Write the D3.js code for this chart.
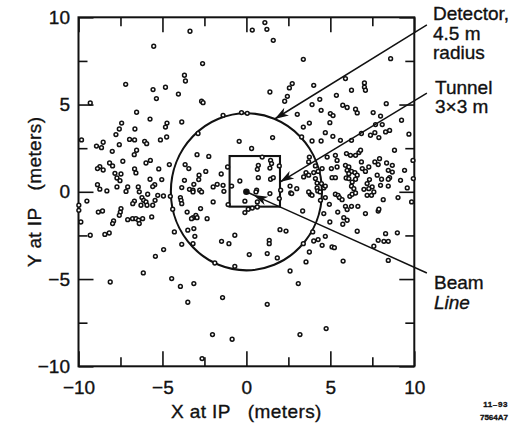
<!DOCTYPE html>
<html>
<head>
<meta charset="utf-8">
<script src="https://cdn.jsdelivr.net/npm/d3@7"></script>
<style>
  html, body { margin: 0; padding: 0; background: #fff; }
  svg { display: block; }
  text { font-family: "Liberation Sans", Arial, Helvetica, sans-serif; fill: #111; stroke: #111; stroke-width: 0.35px; }
</style>
</head>
<body>
<svg id="chart" width="520" height="426"></svg>
<script>
// ---- data (metres at the interaction point) ----
const xDomain = [-10, 10];
const yDomain = [-10, 10];
const majorTicks = [-10, -5, 0, 5, 10];
const minorTicks = [-7.5, -2.5, 2.5, 7.5];
const detectorRadius = 4.5;
const tunnelX = [-1.0, 2.0];
const tunnelY = [-0.85, 2.05];
const beamPoint = [0, 0];

// hit positions [x, y] in metres
const hitsUpperLeft = [
[-3.36,9.2],[-5.52,8.34],[-3.69,6.68],[-3.63,6.35],[-7.19,6.16],[-4.82,5.99],[-5.56,5.86],[-4.05,5.6],[-5.36,5.34],[-9.3,5.09],
[-6.54,4.56],[-5.74,4.17],[-3.85,4.0],[-4.73,3.94],[-4.82,3.71],[-7.43,3.94],[-7.57,3.6],[-6.64,3.6],[-7.77,3.28],[-4.75,3.14],
[-5.12,2.97],[-6.96,3.0],[-6.66,2.97],[-6.06,2.89],[-5.94,2.76],[-9.82,2.97],[-8.53,2.84],[-8.93,2.62],[-8.63,2.53],[-7.57,2.7],
[-7.99,2.32],[-6.54,2.38],[-6.68,2.13],[-5.72,1.8],[-5.98,1.65],[-7.36,1.75],[-8.15,1.65],[-7.97,1.48],[-8.73,1.44],[-8.53,1.25],
[-8.87,1.33],[-6.66,1.31],[-6.58,1.08],[-5.22,1.31],[-4.59,1.56],[-3.65,1.56],[-3.43,1.33],[-7.83,1.06],[-7.47,1.02],[-7.71,0.79],
[-7.53,0.64],[-5.74,0.72],[-5.04,0.7],[-3.69,0.66],[-5.46,0.41],[-5.58,0.3],[-8.87,0.41],[-8.73,0.15],[-7.07,0.28],[-7.17,0.02],
[-6.44,0.28],[-6.38,0.0],[-7.71,0.28],[-8.31,0.05],[-3.85,0.24],[-3.39,0.14]
];
const hitsUpperMiddle = [
[0.35,9.27],[1.1,9.7],[1.22,9.31],[1.6,8.68],[-2.61,7.35],[3.39,7.59],[1.4,5.72],[2.73,6.2],[2.56,5.95],[2.44,5.47],
[2.28,5.19],[-2.67,5.19],[-2.58,5.11],[-1.39,4.38],[-0.29,4.54],[0.05,4.5],[3.03,4.44],[-2.88,3.34],[3.39,3.71],[3.29,3.14],
[-0.43,2.89],[1.56,3.11],[0.31,2.48],[-2.94,2.13],[-2.24,2.03],[0.94,1.99],[1.44,1.8],[1.5,1.62],[-1.12,1.42],[0.71,1.52],
[1.96,1.48],[-2.42,1.17],[1.4,1.36],[-1.5,1.02],[0.65,1.29],[0.71,0.81],[-2.82,0.95],[-2.84,0.7],[1.44,0.72],[1.6,0.81],
[-0.39,0.62],[-3.13,0.43],[-1.74,0.43],[-1.98,0.28],[-0.88,0.33],[2.6,0.33],[3.0,0.18],[-3.18,0.09],[-2.78,0.09],[-1.39,0.37],
[0.61,0.09],[2.04,0.09],[-1.34,0.03],[2.64,-0.07],[0.57,-0.01]
];
const hitsLowerMiddle = [
[-1.09,-0.73],[0.65,-0.58],[0.65,-0.87],[0.11,-1.0],[0.35,-0.93],[-0.09,-1.19],
[-3.18,-0.01],[-2.67,-0.01],[1.4,-0.1],[1.96,-0.39],[2.7,-0.1],[-1.98,-0.58],[-0.09,-0.54],[-2.73,-0.96],[-3.18,-1.48],
[-3.01,-1.35],[-2.94,-1.48],[-3.27,-1.54],[-2.34,-1.54],[3.35,-1.1],[-3.13,-2.11],[2.0,-2.17],[2.36,-2.25],[-0.69,-2.49],[-3.07,-2.55],
[-1.48,-2.84],[-1.04,-2.97],[1.36,-2.78],[1.36,-2.97],[-3.18,-2.97],[3.39,-2.97],[0.17,-3.6],[1.24,-3.54],[1.84,-3.79],[-1.88,-4.08],
[-0.69,-4.27],[2.6,-4.54],[-3.13,-5.26],[3.09,-5.26],[-1.42,-6.06],[1.24,-6.45],[-2.02,-8.18],[-0.85,-8.45],[3.19,-8.18],[-2.64,-9.56]
];
const hitsLowerLeft = [
[-5.88,-0.14],[-5.28,-0.2],[-4.94,-0.24],[-6.22,-0.33],[-6.12,-0.49],[-6.67,-0.53],[-6.77,-0.68],[-5.98,-0.58],[-6.28,-0.77],[-5.92,-0.77],
[-5.44,-0.49],[-5.58,-0.77],[-9.5,-0.53],[-9.98,-0.77],[-9.98,-1.06],[-9.86,-1.73],[-7.47,-0.96],[-7.51,-1.16],[-7.57,-1.35],[-8.82,-1.16],
[-8.57,-1.1],[-7.91,-1.67],[-7.97,-1.82],[-7.07,-1.6],[-6.78,-1.54],[-6.58,-1.54],[-6.42,-1.63],[-6.38,-1.82],[-6.18,-1.54],[-5.64,-1.44],
[-9.3,-2.49],[-8.43,-2.44],[-8.17,-2.36],[-4.93,-3.31],[-5.42,-3.7],[-6.14,-4.65],[-8.11,-5.17],[-4.45,-4.97],[-3.93,-5.42],[-3.49,-6.33],
[-4.29,-2.3],[-3.85,-3.01],[-3.49,-2.2],[-3.53,-1.16],[-3.93,-0.33],[-3.89,-0.49],[-3.85,-0.68],[-4.39,-1.0],[-4.53,-0.26]
];
const hitsUpperRight = [
[8.59,7.63],[4.01,6.1],[5.9,6.49],[7.03,6.24],[7.03,6.0],[7.09,5.82],[6.26,5.82],[5.36,5.53],[4.37,5.3],[3.91,5.0],
[8.33,5.05],[5.74,4.96],[6.0,4.83],[6.5,4.73],[6.6,4.52],[4.45,4.67],[5.0,4.48],[5.16,4.37],[7.55,4.54],[7.99,4.34],
[9.24,4.1],[3.75,3.94],[4.97,3.96],[7.69,3.85],[8.09,3.85],[8.53,3.52],[8.29,3.43],[4.7,3.39],[6.85,3.34],[7.65,3.39],
[7.39,3.24],[7.89,3.11],[9.68,3.3],[5.15,3.18],[5.6,2.95],[6.26,2.95],[3.91,2.91],[4.45,2.91],[8.82,2.38],[5.96,2.19],
[6.2,2.09],[6.5,2.09],[6.7,2.25],[6.8,2.38],[5.3,2.09],[5.4,1.8],[4.81,1.99],[3.75,1.99],[3.71,1.71],[9.92,1.8],
[7.93,1.9],[7.65,1.71],[7.85,1.56],[8.35,1.65],[8.69,1.52],[7.29,1.42],[6.85,1.71],[6.9,1.33],[7.09,1.17],[5.9,1.52],
[6.1,1.42],[6.0,1.23],[6.26,1.17],[6.1,1.04],[6.46,1.1],[6.6,0.95],[5.4,1.42],[5.06,1.33],[4.51,1.33],[4.27,1.17],
[4.01,1.1],[4.11,1.48],[8.45,1.23],[8.69,1.13],[9.42,1.23],[7.79,0.95],[8.05,0.72],[8.53,0.81],[8.45,0.72],[7.33,0.7],
[7.19,0.47],[5.1,0.81],[5.3,0.81],[5.94,0.79],[6.1,0.76],[6.3,0.56],[6.5,0.72],[4.11,0.76],[4.21,0.5],[4.47,0.47],
[9.18,0.66],[9.94,0.76],[7.99,0.37],[8.45,0.33],[7.49,0.28],[7.29,0.18],[7.0,0.14],[6.26,0.32],[6.4,0.18],[4.21,0.22],
[4.61,0.22],[4.7,0.33],[9.58,0.22],[3.55,1.1],[3.71,0.95],[3.41,0.85]
];
const hitsLowerRight = [
[3.81,-0.14],[3.71,-0.01],[3.91,-0.2],[4.25,0.05],[4.39,-0.01],[4.7,-0.33],[4.41,-0.49],[5.3,-0.14],[5.46,-0.2],[5.54,-0.33],
[5.7,-0.45],[6.16,-0.26],[6.3,-0.14],[6.5,-0.07],[7.19,-0.2],[7.45,-0.2],[7.59,-0.01],[8.15,-0.45],[9.03,-0.33],[9.84,-0.58],
[4.94,-0.72],[5.9,-0.83],[6.26,-0.83],[6.64,-0.83],[6.0,-1.02],[5.44,-1.16],[4.61,-1.25],[7.09,-1.25],[7.85,-1.1],[7.89,-1.0],
[5.8,-1.48],[6.0,-1.63],[5.74,-1.86],[4.97,-1.73],[6.6,-2.26],[8.29,-2.4],[8.99,-2.35],[4.7,-2.55],[4.27,-2.74],[4.01,-2.82],
[4.51,-3.07],[5.1,-3.16],[5.24,-3.2],[7.85,-2.78],[8.19,-2.84],[8.45,-2.84],[7.59,-3.12],[3.75,-3.45],[3.55,-4.02],[5.76,-3.97],
[8.45,-3.93],[4.75,-7.84],[3.95,-2.3]
];

// annotation leader lines: [start, tip] in metres
const detectorArrow = [[10.75, 9.56], [1.686, 4.172]];
const tunnelArrow = [[10.75, 5.66], [2.0, 0.56]];
const beamArrow = [[10.75, -4.65], [0.0, 0.0]];

const detectorLabel = ["Detector,", "4.5 m", "radius"];
const tunnelLabel = ["Tunnel", "3\u00d73 m"];
const beamLabel = ["Beam", "Line"];
const xTitle = "X at IP\u00a0\u00a0\u00a0(meters)";
const yTitle = "Y at IP\u00a0\u00a0\u00a0(meters)";
const footnote = ["11\u201393", "7564A7"];

// ---- drawing ----
const svg = d3.select("#chart");
const x = d3.scaleLinear().domain(xDomain).range([78.5, 414.3]);
const y = d3.scaleLinear().domain(yDomain).range([366.3, 17.3]);
const fmt = d => (d < 0 ? "\u2212" + Math.abs(d) : String(d));

const axesG = svg.append("g");
function addAxis(axis, transform, size, values, labels, pad) {
  const g = axesG.append("g").attr("transform", transform)
    .call(axis.tickValues(values).tickSize(-size).tickSizeOuter(0)
      .tickPadding(pad || 0).tickFormat(labels ? fmt : ""));
  g.select(".domain").remove();
  g.selectAll(".tick line").attr("stroke", "#111").attr("stroke-width", 1.6);
  g.selectAll(".tick text").attr("font-size", 19)
    .attr("font-family", "'Liberation Sans', Arial, sans-serif").attr("fill", "#111");
  return g;
}
const B = y(-10), T = y(10), L = x(-10), R = x(10);
addAxis(d3.axisBottom(x), `translate(0,${B})`, 15, majorTicks, true, 14.5);
addAxis(d3.axisBottom(x), `translate(0,${B})`, 9, minorTicks, false);
addAxis(d3.axisTop(x), `translate(0,${T})`, 15, majorTicks, false);
addAxis(d3.axisTop(x), `translate(0,${T})`, 9, minorTicks, false);
addAxis(d3.axisLeft(y), `translate(${L},0)`, 15, majorTicks, true, 8.5);
addAxis(d3.axisLeft(y), `translate(${L},0)`, 9, minorTicks, false);
addAxis(d3.axisRight(y), `translate(${R},0)`, 15, majorTicks, false);
addAxis(d3.axisRight(y), `translate(${R},0)`, 9, minorTicks, false);

svg.append("rect")
  .attr("x", L).attr("y", T).attr("width", R - L).attr("height", B - T)
  .attr("fill", "none").attr("stroke", "#111").attr("stroke-width", 2);

// detector circle and tunnel box
svg.append("ellipse")
  .attr("cx", x(0)).attr("cy", y(0))
  .attr("rx", x(detectorRadius) - x(0)).attr("ry", y(0) - y(detectorRadius))
  .attr("fill", "none").attr("stroke", "#111").attr("stroke-width", 2.1);
svg.append("rect")
  .attr("x", x(tunnelX[0])).attr("y", y(tunnelY[1]))
  .attr("width", x(tunnelX[1]) - x(tunnelX[0])).attr("height", y(tunnelY[0]) - y(tunnelY[1]))
  .attr("fill", "none").attr("stroke", "#111").attr("stroke-width", 2.1);

// hits
const hits = [].concat(hitsUpperLeft, hitsUpperMiddle, hitsLowerMiddle, hitsLowerLeft, hitsUpperRight, hitsLowerRight);
svg.append("g").selectAll("circle").data(hits).join("circle")
  .attr("cx", d => x(d[0])).attr("cy", d => y(d[1])).attr("r", 1.9)
  .attr("fill", "#fff").attr("stroke", "#111").attr("stroke-width", 1.5);

// beam point
svg.append("circle").attr("cx", x(beamPoint[0])).attr("cy", y(beamPoint[1])).attr("r", 3.3).attr("fill", "#111");

// leader lines with arrowheads
function arrowHead(tipPx, fromPx, len, half) {
  const dx = fromPx[0] - tipPx[0], dy = fromPx[1] - tipPx[1];
  const n = Math.hypot(dx, dy), ux = dx / n, uy = dy / n;
  const bx = tipPx[0] + ux * len, by = tipPx[1] + uy * len;
  const nx = tipPx[0] + ux * len * 0.72, ny = tipPx[1] + uy * len * 0.72;
  return `M${tipPx[0]},${tipPx[1]}L${bx - uy * half},${by + ux * half}L${nx},${ny}L${bx + uy * half},${by - ux * half}Z`;
}
function leader(a, headAt) {
  const p0 = [x(a[0][0]), y(a[0][1])], p1 = [x(a[1][0]), y(a[1][1])];
  svg.append("line").attr("x1", p0[0]).attr("y1", p0[1]).attr("x2", p1[0]).attr("y2", p1[1])
    .attr("stroke", "#111").attr("stroke-width", 1.5);
  const t = headAt;
  const tip = [p1[0] + (p0[0] - p1[0]) * t, p1[1] + (p0[1] - p1[1]) * t];
  svg.append("path").attr("d", arrowHead(tip, p0, 14, 4.5)).attr("fill", "#111");
}
leader(detectorArrow, 0);
leader(tunnelArrow, 0);
leader(beamArrow, 0.04);

// labels: one text element per line
function label(lines, x0, y0, step, style) {
  lines.forEach((s, i) => {
    const t = svg.append("text").attr("font-size", 19).attr("x", x0).attr("y", y0 + i * step).text(s);
    if (style && style[i]) t.attr("font-style", style[i]);
  });
}
label(detectorLabel, 433, 20, 19.5);
label(tunnelLabel, 435, 93.5, 19.5);
label(beamLabel, 434, 289, 20, [null, "italic"]);

svg.append("text").attr("x", x(0)).attr("y", 418).attr("text-anchor", "middle")
  .attr("font-size", 19).attr("letter-spacing", 0.4).text(xTitle);
svg.append("text").attr("transform", `translate(41,${y(0)}) rotate(-90)`)
  .attr("text-anchor", "middle").attr("font-size", 19).attr("letter-spacing", 0.4).text(yTitle);

svg.append("text").attr("x", 508).attr("y", 407).attr("text-anchor", "end")
  .attr("font-size", 8).attr("font-weight", "bold").attr("letter-spacing", 0.6).text(footnote[0]);
svg.append("text").attr("x", 508).attr("y", 420).attr("text-anchor", "end")
  .attr("font-size", 8).attr("font-weight", "bold").text(footnote[1]);
</script>
</body>
</html>
